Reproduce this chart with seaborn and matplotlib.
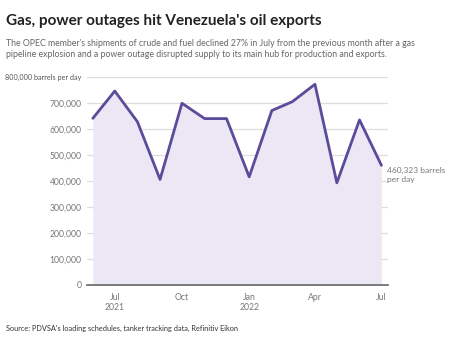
import matplotlib
matplotlib.use("Agg")
import matplotlib.pyplot as plt
import seaborn as sns
import pandas as pd

months = ["2021-06", "2021-07", "2021-08", "2021-09", "2021-10", "2021-11", "2021-12",
          "2022-01", "2022-02", "2022-03", "2022-04", "2022-05", "2022-06", "2022-07"]
exports = [641000, 746000, 628000, 406000, 699000, 640000, 640000,
           416000, 671000, 705000, 772000, 393000, 635000, 460323]
y_ticks = [0, 100000, 200000, 300000, 400000, 500000, 600000, 700000, 800000]
y_labels = ["0", "100,000", "200,000", "300,000", "400,000", "500,000", "600,000",
            "700,000", "800,000 barrels per day"]
x_tick_dates = ["2021-07-01", "2021-10-01", "2022-01-01", "2022-04-01", "2022-07-01"]
x_tick_labels = ["Jul\n2021", "Oct", "Jan\n2022", "Apr", "Jul"]

df = pd.DataFrame({"month": pd.to_datetime(months), "exports": exports})

sns.set_style("white")
plt.rcParams["font.family"] = ["Lato", "DejaVu Sans"]

fig = plt.figure(figsize=(4.5, 3.41), dpi=100)
ax = fig.add_axes([87/450, 56/341, 301/450, 208/341])

line_c = "#5b4b9a"
fill_c = "#ebe7f4"
ax.fill_between(df["month"], df["exports"], 0, color=fill_c, lw=0, zorder=1)
sns.lineplot(data=df, x="month", y="exports", ax=ax, color=line_c, lw=2.0, zorder=3)

ax.set_ylim(0, 800000)
ax.set_xlim(pd.Timestamp("2021-05-24"), pd.Timestamp("2022-07-10"))
ax.set_yticks(y_ticks)
ax.set_yticklabels(y_labels)
ax.set_xticks(pd.to_datetime(x_tick_dates))
ax.set_xticklabels(x_tick_labels)
ax.set_xlabel("")
ax.set_ylabel("")
ax.grid(axis="y", color="#dedede", lw=0.9, zorder=0)
ax.set_axisbelow(True)
for s in ["top", "right", "left"]:
    ax.spines[s].set_visible(False)
ax.spines["bottom"].set_color("#666666")
ax.spines["bottom"].set_linewidth(1.2)
ax.spines["bottom"].set_zorder(4)
ax.tick_params(axis="y", length=0, pad=4, labelsize=6.2, labelcolor="#777777")
ax.tick_params(axis="x", length=3, direction="inout", width=0.9, color="#666666",
               pad=4, labelsize=6.2, labelcolor="#777777")
top_lbl = ax.get_yticklabels()[-1]
top_lbl.set_fontsize(5.2)
top_lbl.set_color("#555555")

ax.annotate("460,323 barrels\nper day", xy=(df["month"].iloc[-1], exports[-1]),
            xytext=(4, -1), textcoords="offset points", ha="left", va="top",
            fontsize=6.0, color="#777777", linespacing=1.3, annotation_clip=False)

fig.text(6/450, 1 - 21/341, "Gas, power outages hit Venezuela's oil exports",
         fontsize=10.95, fontweight="bold", color="#222222", va="center", ha="left")
fig.text(6/450, 1 - 49/341,
         "The OPEC member's shipments of crude and fuel declined 27% in July from the previous month after a gas\n"
         "pipeline explosion and a power outage disrupted supply to its main hub for production and exports.",
         fontsize=6.3, color="#666666", va="center", ha="left", linespacing=1.4)
fig.text(6/450, 1 - 328/341, "Source: PDVSA's loading schedules, tanker tracking data, Refinitiv Eikon",
         fontsize=5.3, color="#333333", va="center", ha="left")

fig.savefig("out.png", dpi=100, facecolor="white")
